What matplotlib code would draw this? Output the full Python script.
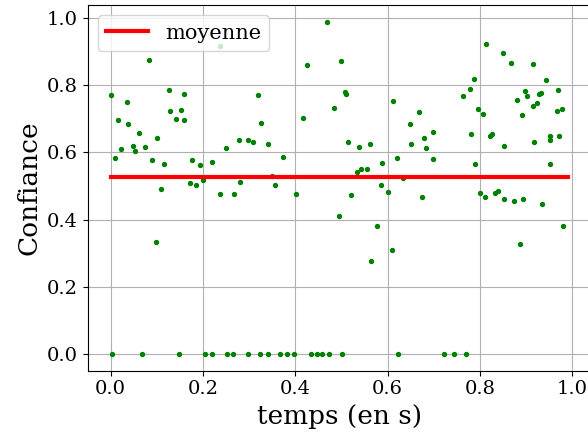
import matplotlib
matplotlib.use("Agg")
from matplotlib import pyplot as plt

plt.rcParams["font.family"] = "DejaVu Serif"

# temps (s) et confiance
temps = [0.0, 0.004, 0.009, 0.0156, 0.022, 0.036, 0.0386, 0.048, 0.053, 0.0625,
         0.069, 0.0747, 0.0834, 0.089, 0.099, 0.101, 0.110, 0.116, 0.127, 0.128,
         0.141, 0.148, 0.153, 0.159, 0.159, 0.171, 0.177, 0.186, 0.194, 0.2004,
         0.205, 0.2206, 0.2206, 0.2365, 0.2365, 0.2496, 0.2524, 0.266, 0.2675, 0.2777,
         0.2805, 0.297, 0.2986, 0.3087, 0.3195, 0.323, 0.3267, 0.340, 0.342, 0.350,
         0.3564, 0.368, 0.3744, 0.383, 0.3975, 0.401, 0.4177, 0.4257, 0.4337, 0.4467,
         0.4589, 0.468, 0.4727, 0.4849, 0.495, 0.4994, 0.502, 0.507, 0.5095, 0.515,
         0.521, 0.5347, 0.539, 0.5433, 0.5557, 0.5628, 0.565, 0.5773, 0.586, 0.5875,
         0.6005, 0.6105, 0.612, 0.6207, 0.6228, 0.6343, 0.6474, 0.651, 0.6676, 0.674,
         0.6777, 0.6828, 0.6987, 0.6987, 0.7218, 0.7448, 0.764, 0.770, 0.779, 0.781,
         0.787, 0.790, 0.7947, 0.799, 0.807, 0.8113, 0.8135, 0.8207, 0.826, 0.8315,
         0.840, 0.850, 0.852, 0.8525, 0.867, 0.8727, 0.881, 0.887, 0.8915, 0.893,
         0.897, 0.902, 0.9138, 0.9146, 0.918, 0.924, 0.928, 0.9326, 0.934, 0.943,
         0.9506, 0.9506, 0.9506, 0.9658, 0.9695, 0.9716, 0.978, 0.9797]
confiance = [0.771, 0.0, 0.584, 0.697, 0.610, 0.751, 0.683, 0.618, 0.604, 0.658,
             0.0, 0.616, 0.875, 0.578, 0.333, 0.644, 0.491, 0.564, 0.785, 0.722,
             0.700, 0.0, 0.726, 0.773, 0.697, 0.509, 0.576, 0.503, 0.561, 0.5186,
             0.0, 0.570, 0.0, 0.475, 0.915, 0.612, 0.0, 0.0, 0.477, 0.638,
             0.5106, 0.0, 0.636, 0.630, 0.771, 0.0, 0.6885, 0.0, 0.626, 0.5285,
             0.5028, 0.0, 0.587, 0.0, 0.0, 0.477, 0.7025, 0.861, 0.0, 0.0,
             0.0, 0.989, 0.0, 0.731, 0.412, 0.872, 0.0, 0.779, 0.774, 0.630,
             0.474, 0.5425, 0.616, 0.5505, 0.5505, 0.624, 0.276, 0.3805, 0.5017, 0.567,
             0.482, 0.310, 0.754, 0.584, 0.0, 0.5237, 0.6855, 0.624, 0.719, 0.466,
             0.644, 0.613, 0.661, 0.581, 0.0, 0.0, 0.767, 0.0, 0.790, 0.655,
             0.819, 0.564, 0.728, 0.480, 0.7145, 0.466, 0.923, 0.650, 0.6536, 0.480,
             0.485, 0.897, 0.618, 0.460, 0.866, 0.454, 0.756, 0.327, 0.710, 0.460,
             0.782, 0.767, 0.8635, 0.738, 0.632, 0.747, 0.775, 0.778, 0.446, 0.816,
             0.650, 0.638, 0.564, 0.722, 0.787, 0.649, 0.728, 0.380]

moyenne = 0.5267
moyenne_debut, moyenne_fin = 0.0, 0.99


def main():
    fig = plt.figure(figsize=(5.88, 4.34), dpi=100)
    ax = fig.add_axes([0.1491, 0.1459, 0.8553, 0.8426])
    ax.scatter(temps, confiance, s=8, color="green", zorder=2)
    ax.plot([moyenne_debut, moyenne_fin], [moyenne, moyenne], color="red",
            linewidth=3, label="moyenne", zorder=3)
    ax.grid(True, zorder=0)
    ax.set_axisbelow(True)
    ax.set_xlabel("temps (en s)", fontsize=19)
    ax.set_ylabel("Confiance", fontsize=19)
    ax.tick_params(labelsize=14)
    ax.legend(loc="upper left", fontsize=15)
    fig.savefig("out.png", dpi=100)


if __name__ == "__main__":
    main()
